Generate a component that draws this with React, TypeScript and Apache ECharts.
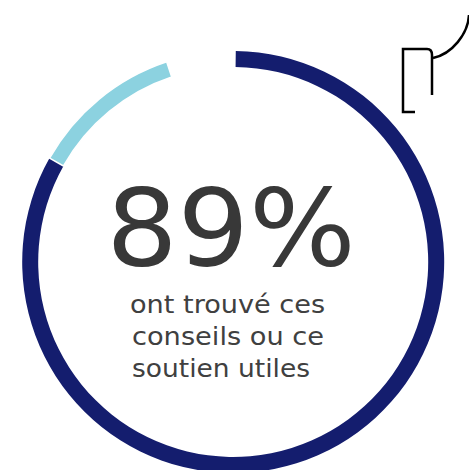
import React, { useEffect, useRef } from "react";
import * as echarts from "echarts";

const categories = ["Utiles", "Autres", "Sans réponse"];
const seriesValues = [83, 11.7, 5.3];
const colours = ["#141d6e", "#8cd2e0", "rgba(0,0,0,0)"];
const headline = "89%";
const captionLines = ["ont trouvé ces", "conseils ou ce", "soutien utiles"];

export default function App() {
  const ref = useRef<HTMLDivElement>(null);
  useEffect(() => {
    const chart = echarts.init(ref.current!, null, { renderer: "svg" });
    const font = "'DejaVu Sans', Verdana, sans-serif";
    chart.setOption({
      animation: false,
      backgroundColor: "#ffffff",
      series: [
        {
          type: "pie",
          center: [233.2, 262],
          radius: [195, 211],
          startAngle: 89.3,
          clockwise: true,
          silent: true,
          label: { show: false },
          labelLine: { show: false },
          data: categories.map((name, i) => ({
            name,
            value: seriesValues[i],
            itemStyle:
              i === 1
                ? { color: colours[i], borderColor: "#ffffff", borderWidth: 1.5 }
                : { color: colours[i] },
          })),
        },
      ],
      graphic: [
        {
          type: "text",
          x: 231,
          y: 228,
          scaleX: 1.05,
          style: {
            text: headline,
            font: `107px ${font}`,
            fill: "#383838",
            textAlign: "center",
            textVerticalAlign: "middle",
          },
        },
        ...captionLines.map((text, i) => ({
          type: "text",
          x: [130, 132, 132][i],
          y: 304.5 + i * 32,
          scaleX: [1.085, 1.09, 1.06][i],
          style: {
            text,
            font: `25px ${font}`,
            fill: "#404040",
            textAlign: "left",
            textVerticalAlign: "middle",
          },
        })),
        {
          type: "polyline",
          shape: { points: [[415, 112], [403, 112], [403, 49], [427, 49]] },
          style: { stroke: "#000000", lineWidth: 2.5, fill: "none" },
        },
        {
          type: "bezierCurve",
          shape: { x1: 427, y1: 49, x2: 432, y2: 55, cpx1: 430, cpy1: 49, cpx2: 432, cpy2: 51 },
          style: { stroke: "#000000", lineWidth: 2.5, fill: "none" },
        },
        {
          type: "line",
          shape: { x1: 432, y1: 55, x2: 432, y2: 95 },
          style: { stroke: "#000000", lineWidth: 2.5 },
        },
        {
          type: "bezierCurve",
          shape: { x1: 433, y1: 58, x2: 469, y2: 15, cpx1: 452, cpy1: 54, cpx2: 468, cpy2: 34 },
          style: { stroke: "#000000", lineWidth: 2.5, fill: "none" },
        },
      ],
    });
    return () => chart.dispose();
  }, []);
  return <div ref={ref} style={{ position: "fixed", left: 0, top: 0, width: 469, height: 470 }} />;
}
